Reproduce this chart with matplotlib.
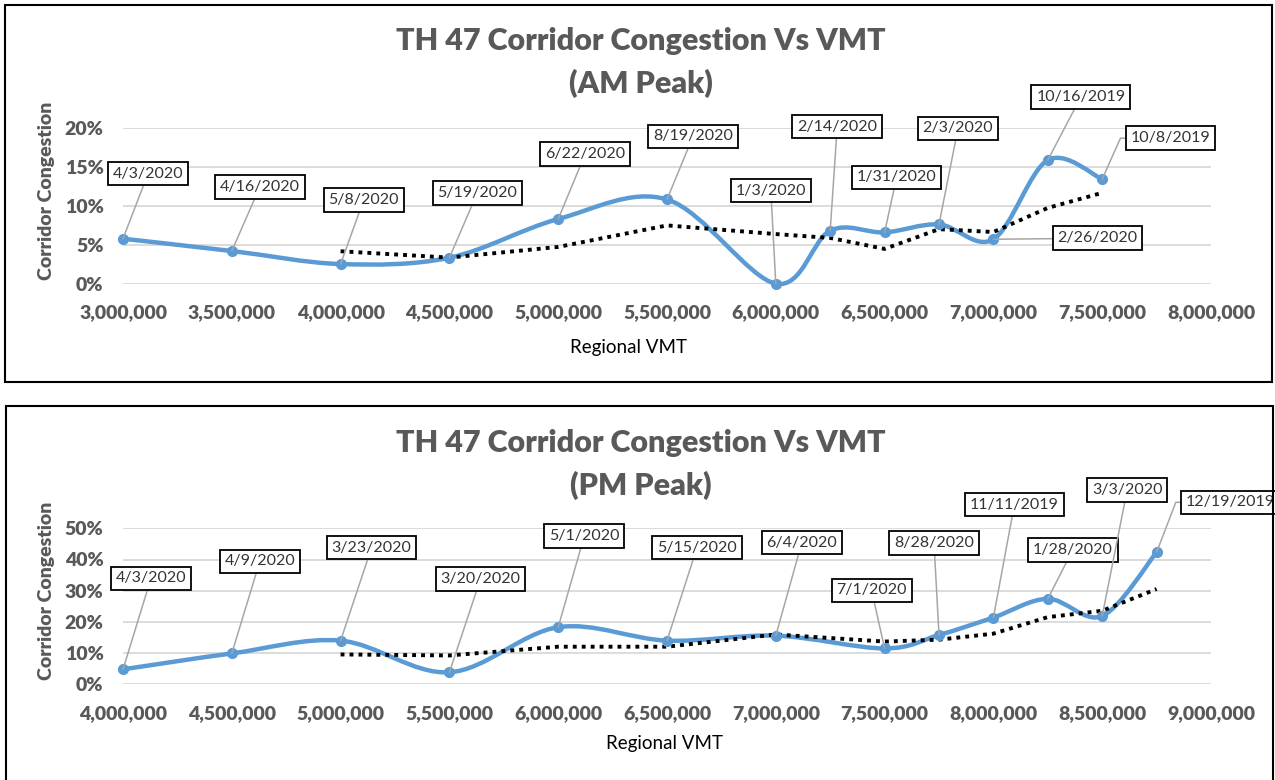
import numpy as np
import matplotlib
matplotlib.use('Agg')
import matplotlib.pyplot as plt
from matplotlib.path import Path
from matplotlib.patches import PathPatch, Rectangle
from matplotlib.ticker import FuncFormatter, PercentFormatter

# ---------------- data ----------------
am_vmt = [3000000, 3500000, 4000000, 4500000, 5000000, 5500000, 6000000,
          6250000, 6500000, 6750000, 7000000, 7250000, 7500000]
am_congestion = [0.0577, 0.0419, 0.0252, 0.0333, 0.0829, 0.108, 0.0,
                 0.068, 0.0658, 0.076, 0.057, 0.1585, 0.134]
am_dates = ['4/3/2020', '4/16/2020', '5/8/2020', '5/19/2020', '6/22/2020',
            '8/19/2020', '1/3/2020', '2/14/2020', '1/31/2020', '2/3/2020',
            '2/26/2020', '10/16/2019', '10/8/2019']

pm_vmt = [4000000, 4500000, 5000000, 5500000, 6000000, 6500000, 7000000,
          7500000, 7750000, 8000000, 8250000, 8500000, 8750000]
pm_congestion = [0.048, 0.099, 0.140, 0.0385, 0.183, 0.140, 0.156,
                 0.115, 0.158, 0.214, 0.274, 0.219, 0.423]
pm_dates = ['4/3/2020', '4/9/2020', '3/23/2020', '3/20/2020', '5/1/2020',
            '5/15/2020', '6/4/2020', '7/1/2020', '8/28/2020', '11/11/2019',
            '1/28/2020', '3/3/2020', '12/19/2019']

am_xticks = [3000000, 3500000, 4000000, 4500000, 5000000, 5500000,
             6000000, 6500000, 7000000, 7500000, 8000000]
am_yticks = [0, 0.05, 0.10, 0.15, 0.20]
pm_xticks = [4000000, 4500000, 5000000, 5500000, 6000000, 6500000,
             7000000, 7500000, 8000000, 8500000, 9000000]
pm_yticks = [0, 0.1, 0.2, 0.3, 0.4, 0.5]

MA_PERIOD = 3

# ---------------- layout (label offsets in pixels) ----------------
am_label_offsets = [(25, 65), (28, 64), (23, 64), (28, 65), (27, 65), (26, 63),
                    (-5, 93), (7, 104), (12, 55), (19, 96), (104, 1), (33, 63),
                    (68, 41)]
am_elbow = {12: 66}
pm_label_offsets = [(28, 91), (28, 92), (31, 93), (31, 93), (26, 91), (30, 93),
                    (26, 93), (-13, 58), (-5, 92), (21, 113), (25, 49),
                    (25, 126), (74, 50)]
pm_elbow = {12: 69}

plt.rcParams['font.family'] = ['Lato', 'DejaVu Sans']

W, H = 1275, 780
fig = plt.figure(figsize=(W / 100, H / 100), dpi=100)

BLUE = '#5b9bd5'
GRAY = '#595959'


def smooth_path(x, y):
    n = len(x)
    verts = [(x[0], y[0])]
    codes = [Path.MOVETO]
    for i in range(n - 1):
        p0 = (x[i - 1], y[i - 1]) if i > 0 else (x[i], y[i])
        p1 = (x[i], y[i])
        p2 = (x[i + 1], y[i + 1])
        p3 = (x[i + 2], y[i + 2]) if i + 2 < n else p2
        c1 = (p1[0] + (p2[0] - p0[0]) / 6, p1[1] + (p2[1] - p0[1]) / 6)
        c2 = (p2[0] - (p3[0] - p1[0]) / 6, p2[1] - (p3[1] - p1[1]) / 6)
        verts += [c1, c2, p2]
        codes += [Path.CURVE4] * 3
    return Path(verts, codes)


def panel(rect, vmt, cong, dates, offsets, elbows, xticks, yticks):
    ax = fig.add_axes(rect)
    ax.set_xlim(xticks[0], xticks[-1])
    ax.set_ylim(yticks[0], yticks[-1])
    ax.set_xticks(xticks)
    ax.set_yticks(yticks)
    ax.xaxis.set_major_formatter(FuncFormatter(lambda v, p: f'{v:,.0f}'))
    ax.yaxis.set_major_formatter(PercentFormatter(1.0, decimals=0))
    ax.grid(axis='y', color='#d9d9d9', lw=1.3)
    ax.set_axisbelow(True)
    for s in ax.spines.values():
        s.set_visible(False)
    ax.tick_params(length=0, labelsize=14, colors=GRAY)
    ax.tick_params(axis='x', pad=15)
    ax.tick_params(axis='y', pad=14)
    plt.setp(ax.get_xticklabels() + ax.get_yticklabels(), fontweight='heavy')

    x = np.asarray(vmt, float)
    y = np.asarray(cong, float)
    ax.add_patch(PathPatch(smooth_path(x, y), fill=False, ec=BLUE, lw=3.2,
                           capstyle='round', joinstyle='round', zorder=3,
                           clip_on=False))
    ax.plot(x, y, 'o', color=BLUE, ms=7, zorder=4, clip_on=False)
    ma = np.convolve(y, np.ones(MA_PERIOD) / MA_PERIOD, mode='valid')
    ax.plot(x[MA_PERIOD - 1:], ma, color='black', lw=2.8,
            ls=(0, (1, 1.3)), zorder=3.5, clip_on=False)

    for i, (d, xv, yv) in enumerate(zip(dates, x, y)):
        dx, dy = offsets[i]
        ap = dict(arrowstyle='-', color='#a6a6a6', lw=1.1, shrinkA=0, shrinkB=0)
        if i in elbows:
            ap['relpos'] = (0, 0.5)
            ap['connectionstyle'] = f'angle,angleA=0,angleB={elbows[i]},rad=0'
        ax.annotate(d, xy=(xv, yv), xytext=(dx, dy), textcoords='offset pixels',
                    ha='center', va='center', fontsize=11.5, color='#333333',
                    bbox=dict(boxstyle='square,pad=0.3', fc='white', ec='black', lw=1.3),
                    arrowprops=ap, zorder=5, annotation_clip=False)
    return ax


def fx(px):
    return px / W


def fy(py):
    return 1 - py / H


# frames
fig.add_artist(Rectangle((fx(5), fy(382)), fx(1267), 377 / H, transform=fig.transFigure,
                         fill=False, ec='black', lw=1.5))
fig.add_artist(Rectangle((fx(6), fy(795)), fx(1267), 389 / H, transform=fig.transFigure,
                         fill=False, ec='black', lw=1.5))

# top panel
panel([fx(123), fy(283.7), fx(1088), 156 / H], am_vmt, am_congestion, am_dates,
      am_label_offsets, am_elbow, am_xticks, am_yticks)
fig.text(fx(641), fy(41), 'TH 47 Corridor Congestion Vs VMT', ha='center', va='center',
         fontsize=22, fontweight='heavy', color=GRAY)
fig.text(fx(641), fy(83), '(AM Peak)', ha='center', va='center',
         fontsize=22, fontweight='heavy', color=GRAY)
fig.text(fx(47), fy(191), 'Corridor Congestion', rotation=90, ha='center', va='center',
         fontsize=14, fontweight='heavy', color=GRAY)
fig.text(fx(629), fy(347), 'Regional VMT', ha='center', va='center', fontsize=13.5,
         color='black')

# bottom panel
panel([fx(123), fy(684.3), fx(1088), 156 / H], pm_vmt, pm_congestion, pm_dates,
      pm_label_offsets, pm_elbow, pm_xticks, pm_yticks)
fig.text(fx(641), fy(443), 'TH 47 Corridor Congestion Vs VMT', ha='center', va='center',
         fontsize=22, fontweight='heavy', color=GRAY)
fig.text(fx(641), fy(485), '(PM Peak)', ha='center', va='center',
         fontsize=22, fontweight='heavy', color=GRAY)
fig.text(fx(47), fy(591), 'Corridor Congestion', rotation=90, ha='center', va='center',
         fontsize=14, fontweight='heavy', color=GRAY)
fig.text(fx(664), fy(744), 'Regional VMT', ha='center', va='center', fontsize=13.5,
         color='black')

fig.savefig('out.png', dpi=100, facecolor='white')
